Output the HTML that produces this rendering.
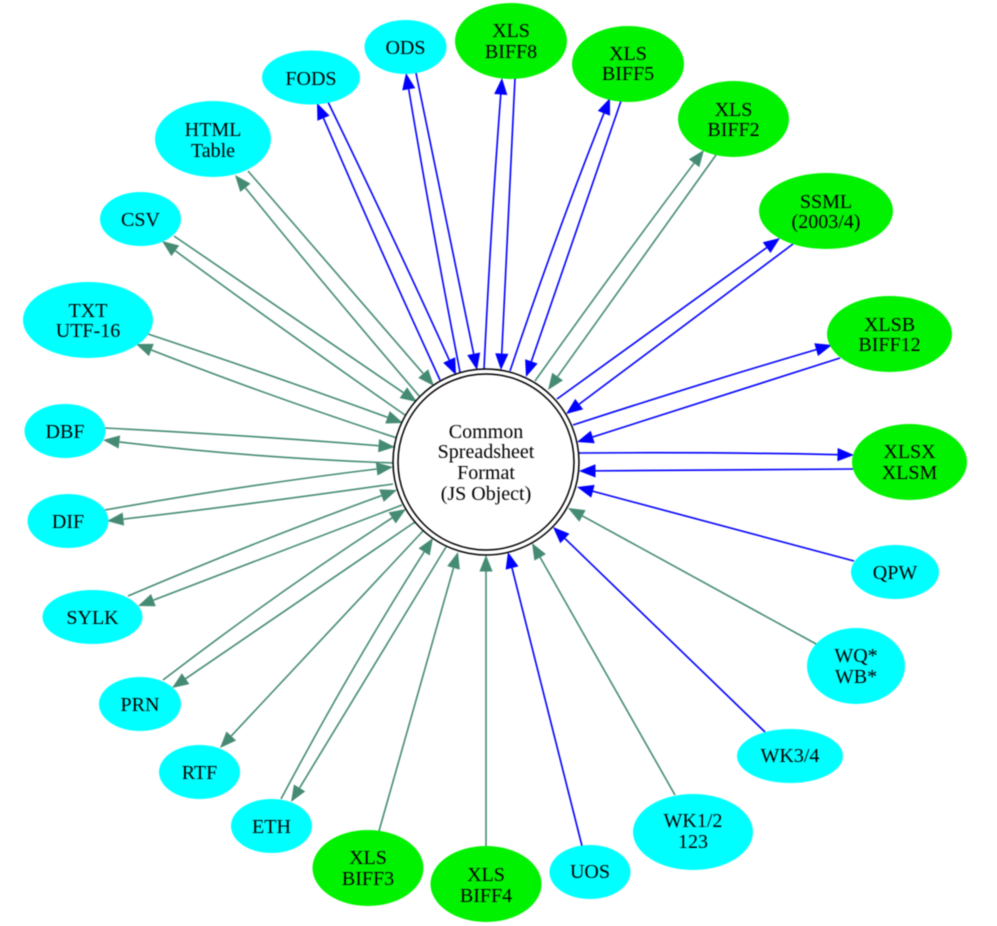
<!DOCTYPE html>
<html lang="en">
<head>
<meta charset="utf-8">
<title>Common Spreadsheet Format</title>
<style>
html,body{margin:0;padding:0;background:#fff;}
svg{display:block;filter:blur(0.45px);}
text{font-family:"Liberation Serif",serif;font-size:20px;fill:#000;text-anchor:middle;}
</style>
</head>
<body>
<svg id="graph" width="997" height="926" viewBox="0 0 997 926" xmlns="http://www.w3.org/2000/svg">
<rect width="997" height="926" fill="#fff"/>
<g id="edges"></g>
<g>
<circle cx="486" cy="462" r="93" fill="#fff" stroke="#000" stroke-width="1.5"/>
<circle cx="486" cy="462" r="88" fill="#fff" stroke="#000" stroke-width="1.5"/>
<text x="486" y="438">Common</text><text x="486" y="458">Spreadsheet</text><text x="486" y="479">Format</text><text x="486" y="500">(JS Object)</text>
</g>
<g><ellipse cx="405.5" cy="47" rx="41" ry="27" fill="#00ffff"/><text x="405.5" y="54">ODS</text></g>
<g><ellipse cx="511" cy="41" rx="56" ry="38" fill="#00f200"/><text x="511" y="37">XLS</text><text x="511" y="58">BIFF8</text></g>
<g><ellipse cx="628" cy="64" rx="56" ry="38" fill="#00f200"/><text x="628" y="60">XLS</text><text x="628" y="80">BIFF5</text></g>
<g><ellipse cx="733.5" cy="119" rx="55.5" ry="38" fill="#00f200"/><text x="733.5" y="116">XLS</text><text x="733.5" y="136">BIFF2</text></g>
<g><ellipse cx="826" cy="211" rx="67" ry="38" fill="#00f200"/><text x="826" y="208">SSML</text><text x="826" y="228">(2003/4)</text></g>
<g><ellipse cx="889.5" cy="334" rx="62.5" ry="38" fill="#00f200"/><text x="889.5" y="331">XLSB</text><text x="889.5" y="351">BIFF12</text></g>
<g><ellipse cx="909.5" cy="462" rx="57.5" ry="38" fill="#00f200"/><text x="909.5" y="458">XLSX</text><text x="909.5" y="479">XLSM</text></g>
<g><ellipse cx="895" cy="572" rx="44" ry="27" fill="#00ffff"/><text x="895" y="579">QPW</text></g>
<g><ellipse cx="856" cy="666" rx="49" ry="38" fill="#00ffff"/><text x="856" y="662">WQ*</text><text x="856" y="683">WB*</text></g>
<g><ellipse cx="790" cy="756" rx="53" ry="27" fill="#00ffff"/><text x="790" y="762">WK3/4</text></g>
<g><ellipse cx="693" cy="832" rx="60" ry="38" fill="#00ffff"/><text x="693" y="827">WK1/2</text><text x="693" y="848">123</text></g>
<g><ellipse cx="590" cy="872" rx="40.5" ry="27" fill="#00ffff"/><text x="590" y="878">UOS</text></g>
<g><ellipse cx="486" cy="884" rx="55.5" ry="38" fill="#00f200"/><text x="486" y="881">XLS</text><text x="486" y="902">BIFF4</text></g>
<g><ellipse cx="368" cy="868" rx="55.5" ry="38" fill="#00f200"/><text x="368" y="864">XLS</text><text x="368" y="885">BIFF3</text></g>
<g><ellipse cx="271.5" cy="826" rx="40.5" ry="27" fill="#00ffff"/><text x="271.5" y="833">ETH</text></g>
<g><ellipse cx="199.5" cy="772" rx="40.5" ry="27" fill="#00ffff"/><text x="199.5" y="779">RTF</text></g>
<g><ellipse cx="140" cy="704" rx="41" ry="27" fill="#00ffff"/><text x="140" y="711">PRN</text></g>
<g><ellipse cx="92.5" cy="617" rx="50" ry="27" fill="#00ffff"/><text x="92.5" y="624">SYLK</text></g>
<g><ellipse cx="68" cy="521" rx="40.5" ry="27" fill="#00ffff"/><text x="68" y="528">DIF</text></g>
<g><ellipse cx="65" cy="431" rx="40.5" ry="27" fill="#00ffff"/><text x="65" y="438">DBF</text></g>
<g><ellipse cx="88" cy="320" rx="65" ry="38" fill="#00ffff"/><text x="88" y="317">TXT</text><text x="88" y="337">UTF-16</text></g>
<g><ellipse cx="140.5" cy="219" rx="40.5" ry="27" fill="#00ffff"/><text x="140.5" y="226">CSV</text></g>
<g><ellipse cx="213" cy="139" rx="58" ry="38" fill="#00ffff"/><text x="213" y="136">HTML</text><text x="213" y="157">Table</text></g>
<g><ellipse cx="311" cy="77.5" rx="49" ry="27" fill="#00ffff"/><text x="311" y="85">FODS</text></g>
</svg>
<script>
var BLUE = "#0000ff";
var GREEN = "#458b74";
/* source name, colour, start x, start y, arrow tip x, arrow tip y, curve bulge */
var edgeList = [
  ["fods-read", BLUE, 440,380, 317,103, 1],
  ["fods-write", BLUE, 328,102, 456,375, 1],
  ["ods-read", BLUE, 460,372, 406,73, 1],
  ["ods-write", BLUE, 416,73, 477,370, 0],
  ["biff8-read", BLUE, 484,369, 502,78, 1],
  ["biff8-write", BLUE, 515,78, 501,370, 0],
  ["biff5-read", BLUE, 510,371, 610,98, 2],
  ["biff5-write", BLUE, 621,101, 526,377, 0],
  ["biff2-read", GREEN, 535,381, 704,150, 1],
  ["biff2-write", GREEN, 716,155, 548,390, 0],
  ["ssml-read", BLUE, 557,399, 780,238, 0],
  ["ssml-write", BLUE, 793,244, 566,414, 0],
  ["xlsb-read", BLUE, 573,425, 832,345, 1],
  ["xlsb-write", BLUE, 840,358, 577,442, 0],
  ["xlsx-read", BLUE, 579,453, 854,455, 1],
  ["xlsx-write", BLUE, 853,469, 579,471, 0],
  ["qpw-read", BLUE, 854,561, 577,487, 0],
  ["wq-read", GREEN, 818,645, 568,508, 0],
  ["wk34-read", BLUE, 765,732, 553,527, 0],
  ["wk12-read", GREEN, 675,795, 532,543, 0],
  ["uos-read", BLUE, 582,846, 508,552, 0],
  ["biff4-read", GREEN, 486,846, 486,555, 0],
  ["biff3-read", GREEN, 379,831, 458,552, 0],
  ["eth-read", GREEN, 281,799, 433,538, 3],
  ["eth-write", GREEN, 446,547, 291,802, 0],
  ["rtf-write", GREEN, 423,531, 220,748, 0],
  ["prn-read", GREEN, 163,680, 406,509, 3],
  ["prn-write", GREEN, 415,522, 172,688, 0],
  ["sylk-read", GREEN, 128,596, 397,490, 2],
  ["sylk-write", GREEN, 402,505, 138,606, 0],
  ["dif-read", GREEN, 105,510, 393,467, 2],
  ["dif-write", GREEN, 393,484, 107,521, 1],
  ["dbf-read", GREEN, 105,428, 395,447, 1],
  ["dbf-write", GREEN, 393,463, 103,440, 3],
  ["txt-read", GREEN, 148,334, 403,423, 1],
  ["txt-write", GREEN, 397,438, 136,344, 2],
  ["csv-read", GREEN, 174,236, 417,402, 0],
  ["csv-write", GREEN, 405,415, 162,241, 1],
  ["html-read", GREEN, 248,171, 434,386, 0],
  ["html-write", GREEN, 420,397, 235,175, 1]
];
var SVGNS = "http://www.w3.org/2000/svg";
var edgeLayer = document.getElementById("edges");
var ARROW_LEN = 16.5, ARROW_HALF = 6.6;
edgeList.forEach(function (e) {
  var x1 = e[2], y1 = e[3], x2 = e[4], y2 = e[5], b = e[6];
  var dx = x2 - x1, dy = y2 - y1, L = Math.sqrt(dx * dx + dy * dy);
  var cx = (x1 + x2) / 2 + (dy / L) * b * 2;
  var cy = (y1 + y2) / 2 - (dx / L) * b * 2;
  var tx = x2 - cx, ty = y2 - cy, T = Math.sqrt(tx * tx + ty * ty);
  tx /= T; ty /= T;
  var bx = x2 - tx * ARROW_LEN, by = y2 - ty * ARROW_LEN;
  var path = document.createElementNS(SVGNS, "path");
  
  
  path.setAttribute("d", "M" + x1 + " " + y1 + " Q" + cx + " " + cy + " " + bx + " " + by);
  path.setAttribute("fill", "none");
  path.setAttribute("stroke", e[1]);
  path.setAttribute("stroke-width", "1.6");
  edgeLayer.appendChild(path);
  var head = document.createElementNS(SVGNS, "polygon");
  
  
  head.setAttribute("points", x2 + "," + y2 + " " + (bx - ty * ARROW_HALF) + "," + (by + tx * ARROW_HALF) + " " + (bx + ty * ARROW_HALF) + "," + (by - tx * ARROW_HALF));
  head.setAttribute("fill", e[1]);
  edgeLayer.appendChild(head);
});
</script>
</body>
</html>
